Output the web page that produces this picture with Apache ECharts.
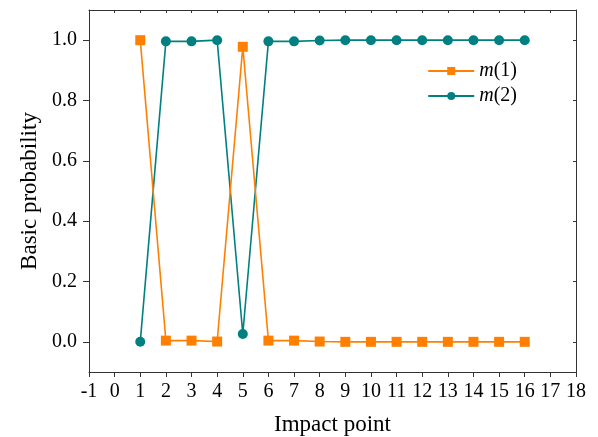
<!DOCTYPE html>
<html>
<head>
<meta charset="utf-8">
<style>
  html, body { margin: 0; padding: 0; background: #fff; }
  #chart { width: 598px; height: 437px; }
</style>
<script src="https://cdn.jsdelivr.net/npm/echarts@6/dist/echarts.min.js"></script>
</head>
<body>
<div id="chart"></div>
<script>
// Impact points and basic probability assignments
const impactPoints = [1, 2, 3, 4, 5, 6, 7, 8, 9, 10, 11, 12, 13, 14, 15, 16];
const m1 = [1.0, 0.004, 0.004, 0.001, 0.978, 0.004, 0.004, 0.001, 0.0, 0.0, 0.0, 0.0, 0.0, 0.0, 0.0, 0.0];
const m2 = [0.0, 0.996, 0.996, 1.0, 0.026, 0.996, 0.996, 0.999, 1.0, 1.0, 1.0, 1.0, 1.0, 1.0, 1.0, 1.0];
const yTickValues = [0, 0.2, 0.4, 0.6, 0.8, 1.0];

const FONT = '"Liberation Serif", "Times New Roman", serif';
const ORANGE = '#FF8000';
const TEAL = '#008080';
const AXIS = '#333';

const chart = echarts.init(document.getElementById('chart'), null, { renderer: 'canvas' });

const pair = (ys) => impactPoints.map((x, i) => [x, ys[i]]);

const xBase = {
  type: 'value', min: -1, max: 18, interval: 1,
  splitLine: { show: false },
  axisLine: { show: true, onZero: false, lineStyle: { color: AXIS, width: 1 } }
};
const yBase = {
  type: 'value', min: -0.1, max: 1.1,
  splitLine: { show: false },
  axisLine: { show: true, onZero: false, lineStyle: { color: AXIS, width: 1 } }
};

chart.setOption({
  backgroundColor: '#fff',
  animation: false,
  grid: { left: 89, right: 22, top: 10, bottom: 65, outerBoundsMode: 'none', containLabel: false },
  legend: {
    right: 76, top: 56, orient: 'vertical',
    itemWidth: 46, itemHeight: 10, itemGap: 5,
    textStyle: {
      fontFamily: FONT, fontSize: 20, color: '#000',
      rich: {
        it: { fontFamily: FONT, fontSize: 20, fontStyle: 'italic', color: '#000' },
        n: { fontFamily: FONT, fontSize: 20, color: '#000' }
      }
    },
    formatter: (name) => {
      const k = name.match(/\((\d)\)/)[1];
      return '{it|m}{n|(' + k + ')}';
    },
    data: ['m(1)', 'm(2)']
  },
  xAxis: [
    Object.assign({}, xBase, {
      position: 'bottom',
      name: 'Impact point', nameLocation: 'middle', nameGap: 41,
      nameTextStyle: { fontFamily: FONT, fontSize: 23, color: '#000' },
      axisTick: { show: true, inside: false, length: 5, lineStyle: { color: AXIS } },
      axisLabel: { fontFamily: FONT, fontSize: 20, color: '#000', margin: 10,
        formatter: (v) => String(v) }
    }),
    Object.assign({}, xBase, {
      position: 'top',
      axisTick: { show: true, inside: true, length: 3, lineStyle: { color: AXIS } },
      axisLabel: { show: false }
    })
  ],
  yAxis: [
    Object.assign({}, yBase, {
      position: 'left',
      name: 'Basic probability', nameLocation: 'middle', nameGap: 47,
      nameTextStyle: { fontFamily: FONT, fontSize: 23, color: '#000' },
      axisTick: { show: true, inside: false, length: 6, customValues: yTickValues, lineStyle: { color: AXIS } },
      axisLabel: { fontFamily: FONT, fontSize: 20, color: '#000', margin: 12,
        customValues: yTickValues, formatter: (v) => v.toFixed(1) }
    }),
    Object.assign({}, yBase, {
      position: 'right',
      axisTick: { show: true, inside: true, length: 3, customValues: yTickValues, lineStyle: { color: AXIS } },
      axisLabel: { show: false }
    })
  ],
  series: [
    {
      name: 'm(1)', type: 'line', data: pair(m1),
      symbol: 'rect', symbolSize: 10,
      lineStyle: { color: ORANGE, width: 1.6 },
      itemStyle: { color: ORANGE },
      z: 3
    },
    {
      name: 'm(2)', type: 'line', data: pair(m2),
      symbol: 'circle', symbolSize: 10,
      lineStyle: { color: TEAL, width: 1.6 },
      itemStyle: { color: TEAL },
      z: 2
    }
  ]
});
</script>
</body>
</html>
